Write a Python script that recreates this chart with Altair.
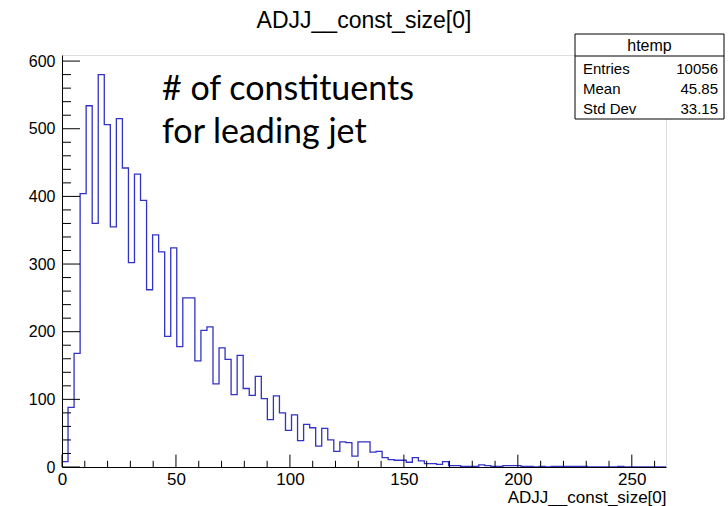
import altair as alt
import pandas as pd

# ---------------- data ----------------
bin_width = 2.65
counts = [8, 88, 168, 404, 534, 360, 580, 506, 355, 515,
          442, 302, 433, 394, 262, 343, 318, 193, 324, 178,
          250, 250, 157, 202, 207, 123, 176, 159, 107, 165,
          116, 106, 134, 101, 70, 105, 80, 54, 77, 39,
          63, 58, 31, 57, 40, 23, 37, 36, 16, 37,
          37, 22, 23, 14, 11, 10, 10, 7, 14, 9,
          5, 5, 4, 8, 2, 2, 1, 1, 1, 3,
          2, 1, 1, 2, 2, 2, 1, 1, 0, 1,
          0, 1, 1, 1, 1, 1, 1, 0, 0, 0,
          0, 0, 1, 0, 0, 0, 0, 0, 0, 0]

x_major_ticks = [0, 50, 100, 150, 200, 250]
x_minor_ticks = [10, 20, 30, 40, 60, 70, 80, 90, 110, 120, 130, 140,
                 160, 170, 180, 190, 210, 220, 230, 240, 260]
y_major_ticks = [0, 100, 200, 300, 400, 500, 600]
y_minor_ticks = [20, 40, 60, 80, 120, 140, 160, 180, 220, 240, 260, 280,
                 320, 340, 360, 380, 420, 440, 460, 480, 520, 540, 560, 580]

title_text = "ADJJ__const_size[0]"
xaxis_title = "ADJJ__const_size[0]"
stats_name = "htemp"
stats_labels = ["Entries", "Mean", "Std Dev"]
stats_values = ["10056", "45.85", "33.15"]
note_lines = ["# of constituents", "for leading jet"]

# ---------------- layout ----------------
W, H = 604, 412
FONT = "Liberation Sans"
LINE = "#3232c4"

edges = [i * bin_width for i in range(len(counts) + 1)]
hist_df = pd.DataFrame({"x": edges, "n": counts + [counts[-1]]})

xscale = alt.Scale(domain=[0, 265], nice=False, zero=False)
yscale = alt.Scale(domain=[0, 609], nice=False, zero=False)

xaxis = alt.Axis(values=x_major_ticks, ticks=False, grid=False, domain=True,
                 domainColor="black", domainWidth=1, labelFont=FONT,
                 labelFontSize=17, labelColor="black", labelPadding=4,
                 labelFlush=False, title=xaxis_title, titleFont=FONT,
                 titleFontSize=17, titleFontWeight="normal", titleColor="black",
                 titleAnchor="end", titleAlign="right", titlePadding=2, zindex=1)
yaxis = alt.Axis(values=y_major_ticks, ticks=False, grid=False, domain=True,
                 domainColor="black", domainWidth=1, labelFont=FONT,
                 labelFontSize=16, labelColor="black", labelPadding=7,
                 title=None, zindex=1)

X = alt.X("x:Q", scale=xscale, axis=xaxis)
Y = alt.Y("n:Q", scale=yscale, axis=yaxis)

hist = alt.Chart(hist_df).mark_line(
    interpolate="step-after", color=LINE, strokeWidth=1.3
).encode(x=X, y=Y)

def xticks(vals, length):
    return alt.Chart(pd.DataFrame({"x": vals})).mark_rule(
        color="black", strokeWidth=1
    ).encode(x=X, y=alt.value(H), y2=alt.value(H - length))

def yticks(vals, length):
    return alt.Chart(pd.DataFrame({"n": vals})).mark_rule(
        color="black", strokeWidth=1
    ).encode(y=Y, x=alt.value(0), x2=alt.value(length))

one = pd.DataFrame({"a": [0]})

title = alt.Chart(one).mark_text(
    font=FONT, fontSize=23, color="black", align="center", baseline="alphabetic"
).encode(x=alt.value(W / 2), y=alt.value(-27), text=alt.value(title_text))

note1 = alt.Chart(one).mark_text(
    font="Lato", fontSize=34, color="black", align="left", baseline="alphabetic"
).encode(x=alt.value(100), y=alt.value(45), text=alt.value(note_lines[0]))
note2 = alt.Chart(one).mark_text(
    font="Lato", fontSize=34, color="black", align="left", baseline="alphabetic"
).encode(x=alt.value(100), y=alt.value(88), text=alt.value(note_lines[1]))

box = alt.Chart(one).mark_rect(
    fill="white", stroke="black", strokeWidth=1
).encode(x=alt.value(513), x2=alt.value(662), y=alt.value(-21), y2=alt.value(64))
sep = alt.Chart(one).mark_rule(color="black", strokeWidth=1).encode(
    x=alt.value(513), x2=alt.value(662), y=alt.value(1))
head = alt.Chart(one).mark_text(
    font=FONT, fontSize=16, color="black", align="center", baseline="alphabetic"
).encode(x=alt.value(587.5), y=alt.value(-4), text=alt.value(stats_name))

stat_layers = []
row_y = [19, 39, 58.5]
for lab, val, yy in zip(stats_labels, stats_values, row_y):
    stat_layers.append(alt.Chart(one).mark_text(
        font=FONT, fontSize=15, color="black", align="left", baseline="alphabetic"
    ).encode(x=alt.value(521), y=alt.value(yy), text=alt.value(lab)))
    stat_layers.append(alt.Chart(one).mark_text(
        font=FONT, fontSize=15, color="black", align="right", baseline="alphabetic"
    ).encode(x=alt.value(656), y=alt.value(yy), text=alt.value(val)))

chart = alt.layer(
    hist,
    xticks(x_major_ticks, 12.4), xticks(x_minor_ticks, 6.2),
    yticks(y_major_ticks, 18), yticks(y_minor_ticks, 9),
    note1, note2, title, box, sep, head, *stat_layers
).properties(
    width=W, height=H,
    autosize=alt.AutoSizeParams(type="none"),
    padding={"left": 62, "top": 55, "right": 62, "bottom": 39},
).configure_view(stroke="black", strokeWidth=1).configure(background="white")

chart.save("out.html", embed_options={"renderer": "svg", "actions": False})
